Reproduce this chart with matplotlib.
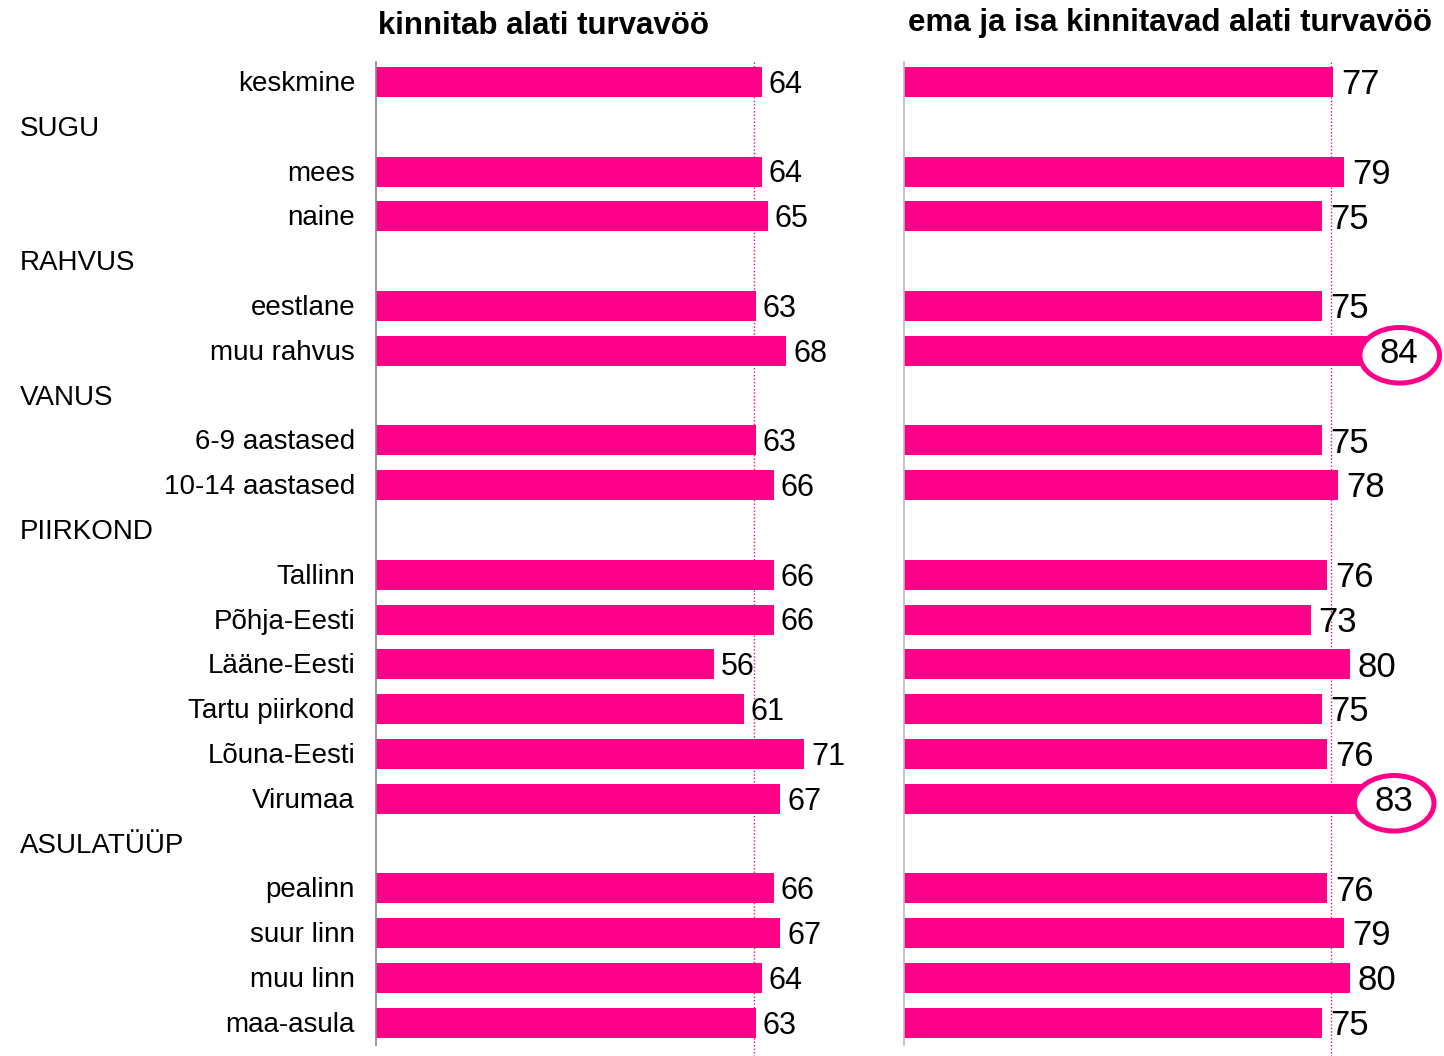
import matplotlib
matplotlib.use("Agg")
import matplotlib.pyplot as plt
from matplotlib.patches import Ellipse
from matplotlib.transforms import blended_transform_factory, offset_copy

plt.rcParams['font.family'] = ['Liberation Sans', 'DejaVu Sans']

# ---- data ----
rows = ["keskmine", "SUGU", "mees", "naine", "RAHVUS", "eestlane", "muu rahvus",
        "VANUS", "6-9 aastased", "10-14 aastased", "PIIRKOND", "Tallinn",
        "Põhja-Eesti", "Lääne-Eesti", "Tartu piirkond", "Lõuna-Eesti", "Virumaa",
        "ASULATÜÜP", "pealinn", "suur linn", "muu linn", "maa-asula"]
headers = ["SUGU", "RAHVUS", "VANUS", "PIIRKOND", "ASULATÜÜP"]
left_values = {"keskmine": 64, "mees": 64, "naine": 65, "eestlane": 63, "muu rahvus": 68,
               "6-9 aastased": 63, "10-14 aastased": 66, "Tallinn": 66, "Põhja-Eesti": 66,
               "Lääne-Eesti": 56, "Tartu piirkond": 61, "Lõuna-Eesti": 71, "Virumaa": 67,
               "pealinn": 66, "suur linn": 67, "muu linn": 64, "maa-asula": 63}
right_values = {"keskmine": 77, "mees": 79, "naine": 75, "eestlane": 75, "muu rahvus": 84,
                "6-9 aastased": 75, "10-14 aastased": 78, "Tallinn": 76, "Põhja-Eesti": 73,
                "Lääne-Eesti": 80, "Tartu piirkond": 75, "Lõuna-Eesti": 76, "Virumaa": 83,
                "pealinn": 76, "suur linn": 79, "muu linn": 80, "maa-asula": 75}
left_ref = 62.7
right_ref = 76.7
right_highlight = ["muu rahvus", "Virumaa"]
titles = ["kinnitab alati turvavöö", "ema ja isa kinnitavad alati turvavöö"]

PINK = "#FF0088"
W, H = 1444, 1056
fig = plt.figure(figsize=(W / 100, H / 100), dpi=100)

def px_axes(x0, x1, y0, y1):
    return fig.add_axes([x0 / W, 1 - y1 / H, (x1 - x0) / W, (y1 - y0) / H])

row_px = 44.8
ax_top, ax_bot = 62, 1045
first_row = 82

def setup(ax, x0, x1, scale, spine_color):
    ax.set_xlim(0, (x1 - x0) / scale)
    top = -(first_row - ax_top) / row_px
    bot = (len(rows) - 1) + (ax_bot - (first_row + (len(rows) - 1) * row_px)) / row_px
    ax.set_ylim(bot, top)
    for s in ["top", "right", "bottom"]:
        ax.spines[s].set_visible(False)
    ax.spines["left"].set_color(spine_color)
    ax.spines["left"].set_linewidth(1.2)
    ax.set_xticks([])
    ax.set_yticks([])
    ax.patch.set_alpha(0)
    return top, bot

num_font = ['Liberation Sans Narrow', 'Liberation Sans', 'DejaVu Sans']

axL = px_axes(376, 860, ax_top, ax_bot)
topL, botL = setup(axL, 376, 860, 6.03, "#888888")
axR = px_axes(904, 1444, ax_top, ax_bot)
topR, botR = setup(axR, 904, 1444, 5.57, "#bbbbbb")

for ax, vals, ref, top, bot, fs, off in [
        (axL, left_values, left_ref, topL, botL, 22, 7),
        (axR, right_values, right_ref, topR, botR, 25, 8)]:
    ax.plot([ref, ref], [top, bot + 0.25], color=PINK, lw=1, ls=(0, (1, 1.5)),
            clip_on=False, zorder=1)
    ys = [rows.index(k) for k in vals]
    ax.barh(ys, list(vals.values()), height=0.67, color=PINK, zorder=2)
    for k, v in vals.items():
        y = rows.index(k)
        ax.annotate(str(v), (v, y), xytext=(off * 0.72, -2), textcoords="offset points",
                    ha="left", va="center", fontsize=fs, family=num_font,
                    color="black", zorder=5, annotation_clip=False)

for k in right_highlight:
    v = right_values[k]
    y = rows.index(k)
    e = Ellipse((v + 5.0, y + 0.1), width=14.3, height=1.24, facecolor="white",
                edgecolor=PINK, lw=3.6, zorder=4, clip_on=False)
    axR.add_patch(e)

# category labels
trans = blended_transform_factory(fig.transFigure, axL.transData)
trans = offset_copy(trans, fig=fig, x=0, y=-2, units="dots")
for i, r in enumerate(rows):
    if r in headers:
        fig.text(20 / W, i, r, transform=trans, ha="left", va="center", fontsize=20)
    else:
        fig.text(355 / W, i, r, transform=trans, ha="right", va="center", fontsize=20)

fig.text(544 / W, 1 - 26 / H, titles[0], ha="center", va="center", fontsize=22.5,
         fontweight="bold")
fig.text(1170 / W, 1 - 23 / H, titles[1], ha="center", va="center", fontsize=22.5,
         fontweight="bold")

fig.savefig("out.png", dpi=100, facecolor="white")
